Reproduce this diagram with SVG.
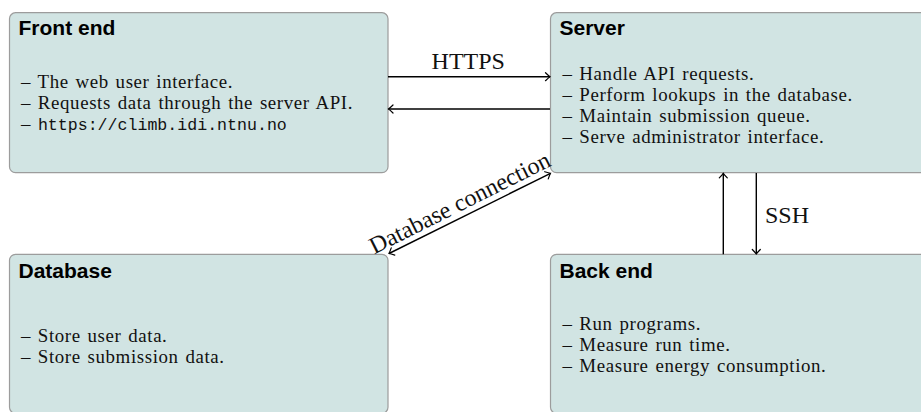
<svg xmlns="http://www.w3.org/2000/svg" width="921" height="412" viewBox="0 0 921 412">
  <style>
    .box { fill: #d1e4e3; stroke: #9c9c9c; stroke-width: 1.2; }
    .title { font-family: "Liberation Sans", Arial, sans-serif; font-weight: bold; font-size: 21px; fill: #000; }
    .body { font-family: "Liberation Serif", "Times New Roman", serif; font-size: 18.9px; letter-spacing: 0.6px; word-spacing: 1.5px; fill: #111; }
    .mono { font-family: "Liberation Mono", "Courier New", monospace; font-size: 16.6px; letter-spacing: 0; word-spacing: 0; }
    .label { font-family: "Liberation Serif", "Times New Roman", serif; font-size: 24px; fill: #111; }
    .conn { stroke: #000; stroke-width: 1.4; fill: none; }
  </style>
  <defs>
    <marker id="arr" markerUnits="userSpaceOnUse" viewBox="-6 -5 8 10" refX="0" refY="0" markerWidth="8" markerHeight="10" orient="auto-start-reverse">
      <path d="M -4.5 -4 Q -1.2 -0.8 0 0 Q -1.2 0.8 -4.5 4" fill="none" stroke="#000" stroke-width="1.2" stroke-linecap="round"/>
    </marker>
  </defs>

  <g id="frontend">
    <rect class="box" x="9.5" y="12.7" width="378.5" height="160" rx="6"/>
    <text class="title" x="18.5" y="35">Front end</text>
    <text class="body" x="21" y="88">– The web user interface.</text>
    <text class="body" x="21" y="109">– Requests data through the server API.</text>
    <text class="body" x="21" y="130">– <tspan class="mono">https://climb.idi.ntnu.no</tspan></text>
  </g>

  <g id="server">
    <rect class="box" x="550.5" y="12.7" width="378.5" height="160" rx="6"/>
    <text class="title" x="559.5" y="35">Server</text>
    <text class="body" x="562.5" y="80">– Handle API requests.</text>
    <text class="body" x="562.5" y="101">– Perform lookups in the database.</text>
    <text class="body" x="562.5" y="122">– Maintain submission queue.</text>
    <text class="body" x="562.5" y="143">– Serve administrator interface.</text>
  </g>

  <g id="database">
    <rect class="box" x="9.5" y="254.3" width="378.5" height="159" rx="6"/>
    <text class="title" x="18.5" y="277.5">Database</text>
    <text class="body" x="21" y="342">– Store user data.</text>
    <text class="body" x="21" y="363">– Store submission data.</text>
  </g>

  <g id="backend">
    <rect class="box" x="550.5" y="254.3" width="378.5" height="159" rx="6"/>
    <text class="title" x="559.5" y="277.5">Back end</text>
    <text class="body" x="562.5" y="330">– Run programs.</text>
    <text class="body" x="562.5" y="351">– Measure run time.</text>
    <text class="body" x="562.5" y="372">– Measure energy consumption.</text>
  </g>

  <g id="connectors">
    <line class="conn" x1="388" y1="76.7" x2="550" y2="76.7" marker-end="url(#arr)"/>
    <text class="label" x="468.3" y="69.3" text-anchor="middle">HTTPS</text>
    <line class="conn" x1="550" y1="109" x2="388.5" y2="109" marker-end="url(#arr)"/>
    <line class="conn" x1="389" y1="253.5" x2="550.5" y2="173.3" marker-start="url(#arr)" marker-end="url(#arr)"/>
    <text class="label" text-anchor="middle" transform="translate(469.5 213.5) rotate(-26.57)" x="-4" y="-6">Database connection</text>
    <line class="conn" x1="723.3" y1="254.3" x2="723.3" y2="173.3" marker-end="url(#arr)"/>
    <line class="conn" x1="756.3" y1="173" x2="756.3" y2="254" marker-end="url(#arr)"/>
    <text class="label" x="765" y="222.7">SSH</text>
  </g>
</svg>
